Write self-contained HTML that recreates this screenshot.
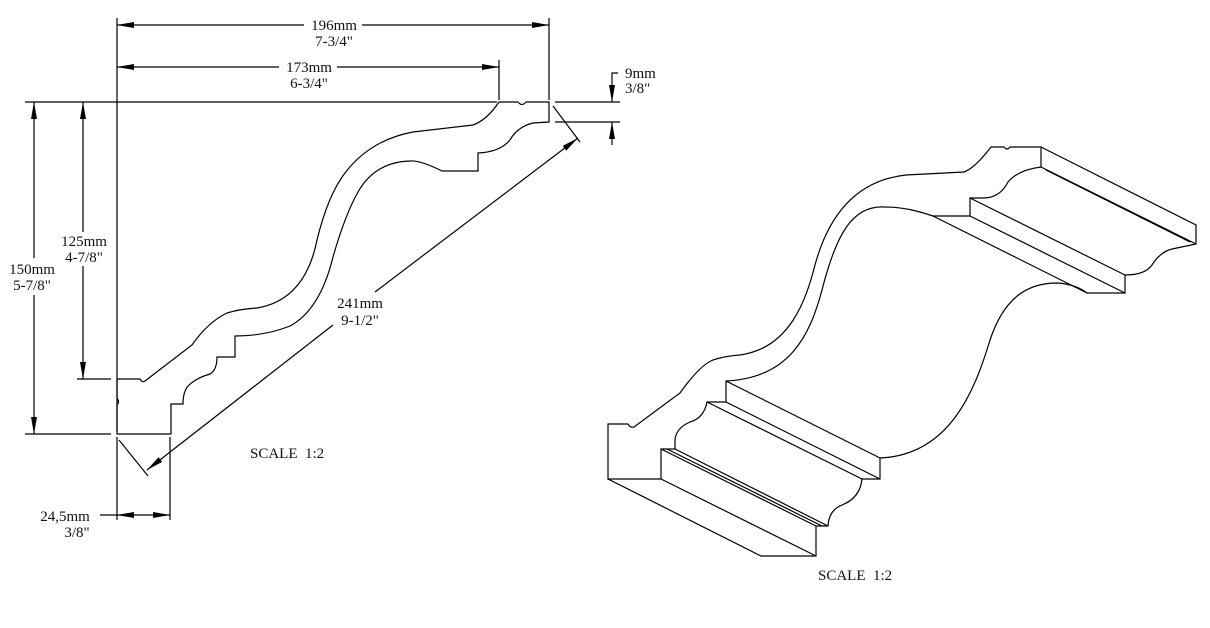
<!DOCTYPE html>
<html><head><meta charset="utf-8"><style>
html,body{margin:0;padding:0;background:#fff;}
svg{display:block}
text{font-family:"Liberation Serif",serif;font-size:15px;fill:#111}
</style></head><body>
<svg width="1210" height="628" viewBox="0 0 1210 628" xmlns="http://www.w3.org/2000/svg">
<defs>
<marker id="a" viewBox="0 0 17 6" refX="17" refY="3" markerWidth="17" markerHeight="6" orient="auto" markerUnits="userSpaceOnUse"><path d="M0,0 L17,3 L0,6 z" fill="#000"/></marker>
</defs>
<g stroke="#000" stroke-width="1.2" fill="none">
<line x1="117" y1="18" x2="117" y2="432"/>
<line x1="549" y1="18" x2="549" y2="100"/>
<line x1="499" y1="60" x2="499" y2="100"/>
<line x1="25" y1="102" x2="497" y2="102"/>
<line x1="555" y1="102" x2="620" y2="102"/>
<line x1="555" y1="122" x2="620" y2="122"/>
<line x1="77" y1="379" x2="111" y2="379"/>
<line x1="25" y1="434" x2="111" y2="434"/>
<line x1="117" y1="437" x2="117" y2="520"/>
<line x1="170" y1="437" x2="170" y2="520"/>
<line x1="119" y1="440" x2="148" y2="476"/>
<line x1="553" y1="106" x2="580" y2="142"/>
<line x1="304" y1="25" x2="117" y2="25" marker-end="url(#a)"/>
<line x1="362" y1="25" x2="549" y2="25" marker-end="url(#a)"/>
<line x1="279" y1="67" x2="117" y2="67" marker-end="url(#a)"/>
<line x1="337" y1="67" x2="499" y2="67" marker-end="url(#a)"/>
<polyline points="618,73 612,73 612,102" marker-end="url(#a)"/>
<line x1="612" y1="145" x2="612" y2="122" marker-end="url(#a)"/>
<line x1="34" y1="258" x2="34" y2="102" marker-end="url(#a)"/>
<line x1="34" y1="295" x2="34" y2="434" marker-end="url(#a)"/>
<line x1="83" y1="232" x2="83" y2="102" marker-end="url(#a)"/>
<line x1="83" y1="266" x2="83" y2="379" marker-end="url(#a)"/>
<line x1="100" y1="515" x2="117" y2="515"/>
<line x1="143" y1="515" x2="117" y2="515" marker-end="url(#a)"/>
<line x1="143" y1="515" x2="170" y2="515" marker-end="url(#a)"/>
<line x1="375" y1="292" x2="578" y2="138" marker-end="url(#a)"/>
<line x1="333" y1="325" x2="147" y2="470" marker-end="url(#a)"/>
<path d="M117,379 L140,379 Q142,383 145,381 L192,345 Q208,322 227,313 Q240,309 257,308 Q305,300 317,240 Q328,195 345,173 Q370,140 413,132 L473,125 Q487,120 499,102 L518,102 Q522,107 526,102 L549,102 L549,122 L533,123 Q517,127 510,140 Q500,152 478,153 L478,171 L442,171 Q420,160 410,161 Q375,162 358,192 Q345,215 333,257 Q320,310 290,326 Q265,336 235,336 L235,357 L217,357 Q217,370 210,374 Q196,378 188,386 Q183,392 183,404 L171,404 L171,434 L117,434 L117,405 Q120,402 117,398 Z"/>
<path d="M608,479 L608,424 L628,424 Q630,428 634,427 L680,393 Q700,365 713,360 Q725,356 740,355 C790,348 806,300 815,265 C830,210 860,180 906,175 L964,172 Q975,168 991,147 L1004,147 Q1007,151 1010,147 L1041,147 L1041,167 Q1018,170 1008,182 Q1000,198 983,198 L970,198 L970,216 L933,216 C918,211 903,207 885,207 C852,205 836,235 822,290 C810,335 790,378 726,381 L726,402 L707,402 Q704,418 690,422 Q676,428 675,440 L675,449 L661,449 L661,479 Z"/>
<path d="M608,479 L761,556 L816,556 L816,526 L828,526 Q829,510 842,505 Q860,498 862,479 L880,479 L880,458 C950,455 975,390 990,340 C1005,295 1030,283 1057,283 Q1075,284 1087,293 L1125,293 L1125,275 Q1145,275 1152,265 Q1160,252 1172,249 L1196,244 L1196,225 L1041,147"/>
<line x1="661" y1="479" x2="816" y2="556"/>
<line x1="661" y1="449" x2="816" y2="526"/>
<line x1="667" y1="449" x2="822" y2="526"/>
<line x1="675" y1="449" x2="828" y2="526"/>
<line x1="707" y1="402" x2="862" y2="479"/>
<line x1="726" y1="402" x2="880" y2="479"/>
<line x1="726" y1="381" x2="880" y2="458"/>
<line x1="933" y1="216" x2="1087" y2="293"/>
<line x1="970" y1="216" x2="1125" y2="293"/>
<line x1="970" y1="198" x2="1125" y2="275"/>
<line x1="1041" y1="167" x2="1196" y2="244"/>
<line x1="1046" y1="170" x2="1190" y2="242"/>
</g>
<g text-anchor="middle">
<text x="334" y="30">196mm</text><text x="334" y="46">7-3/4"</text>
<text x="309" y="72">173mm</text><text x="309" y="88">6-3/4"</text>
<text x="625" y="78" text-anchor="start">9mm</text><text x="625" y="93" text-anchor="start">3/8"</text>
<text x="84" y="246">125mm</text><text x="84" y="262">4-7/8"</text>
<text x="32" y="274">150mm</text><text x="32" y="290">5-7/8"</text>
<text x="360" y="308">241mm</text><text x="360" y="325">9-1/2"</text>
<text x="65" y="521">24,5mm</text><text x="77" y="537">3/8"</text>
</g>
<text x="250" y="458" xml:space="preserve">SCALE  1:2</text>
<text x="818" y="580" xml:space="preserve">SCALE  1:2</text>
</svg>
</body></html>
